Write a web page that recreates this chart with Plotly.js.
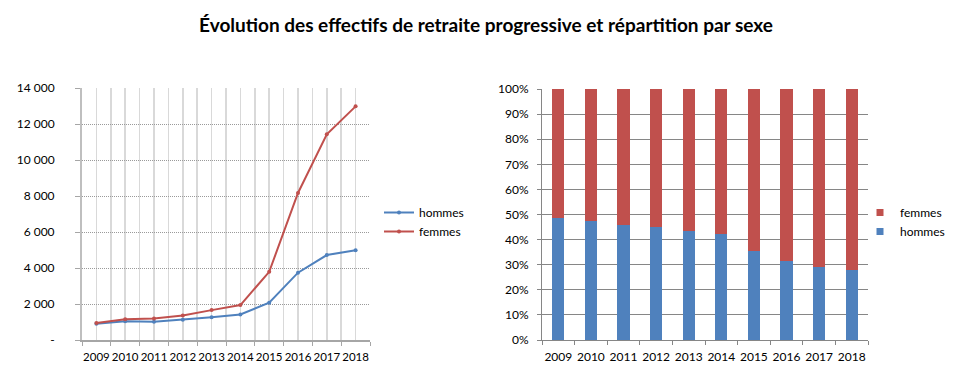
<!DOCTYPE html>
<html>
<head>
<meta charset="utf-8">
<script src="https://cdn.plot.ly/plotly-3.0.1.min.js"></script>
<style>html,body{margin:0;padding:0;background:#fff;}#chart{width:962px;height:373px;}</style>
</head>
<body>
<div id="chart"></div>
<script>
const years = [2009, 2010, 2011, 2012, 2013, 2014, 2015, 2016, 2017, 2018];
const hommes = [900, 1040, 1010, 1120, 1270, 1420, 2070, 3740, 4720, 4990];
const femmes = [950, 1150, 1190, 1360, 1660, 1940, 3790, 8170, 11430, 12980];
const yTickVals = [0, 2000, 4000, 6000, 8000, 10000, 12000, 14000];
const yTickText = ['-', '2 000', '4 000', '6 000', '8 000', '10 000', '12 000', '14 000'];
const titleText = 'Évolution des effectifs de retraite progressive et répartition par sexe';

const BLUE = '#4F81BD', RED = '#C0504D';
const W = 962, H = 373;
const px = v => v / W, py = v => 1 - v / H;
const FAM = 'Lato, "Open Sans", sans-serif';
const font = {family: FAM, size: 12, color: '#000'};
const fontSmall = {family: FAM, size: 11.5, color: '#000'};

const traces = [
  {x: years, y: hommes, name: 'hommes', type: 'scatter', mode: 'lines+markers',
   line: {color: BLUE, width: 2}, marker: {size: 4, color: BLUE}, xaxis: 'x', yaxis: 'y', legend: 'legend'},
  {x: years, y: femmes, name: 'femmes', type: 'scatter', mode: 'lines+markers',
   line: {color: RED, width: 2}, marker: {size: 4, color: RED}, xaxis: 'x', yaxis: 'y', legend: 'legend'},
  {x: years, y: hommes, name: 'hommes', type: 'bar', marker: {color: BLUE}, showlegend: false,
   xaxis: 'x2', yaxis: 'y2'},
  {x: years, y: femmes, name: 'femmes', type: 'bar', marker: {color: RED}, showlegend: false,
   xaxis: 'x2', yaxis: 'y2'},
  // legend-only entries with small square swatches, as in the reference
  {x: [null], y: [null], name: 'hommes', type: 'scatter', mode: 'markers',
   marker: {symbol: 'square', size: 7, color: BLUE}, xaxis: 'x2', yaxis: 'y2', legend: 'legend2'},
  {x: [null], y: [null], name: 'femmes', type: 'scatter', mode: 'markers',
   marker: {symbol: 'square', size: 7, color: RED}, xaxis: 'x2', yaxis: 'y2', legend: 'legend2'}
];

const layout = {
  width: W, height: H,
  margin: {l: 0, r: 0, t: 0, b: 0},
  paper_bgcolor: '#fff', plot_bgcolor: '#fff',
  font: font,
  showlegend: true,
  barmode: 'stack', barnorm: 'percent', bargap: 0.62,
  title: {text: '<b>' + titleText + '</b>', x: px(486), xanchor: 'center', xref: 'paper',
          y: py(25), yanchor: 'middle', yref: 'container',
          font: {family: FAM, size: 19, color: '#000'}},
  xaxis: {domain: [px(82), px(370)], anchor: 'y', type: 'linear', range: [2008.5, 2018.5],
          tickvals: years, ticktext: years.map(String), ticks: '', showgrid: true, tickangle: 0,
          gridcolor: '#d9d9d9', gridwidth: 1.5, ticklabelstandoff: 6,
          minor: {tick0: 2008.5, dtick: 1, showgrid: true, gridcolor: '#d9d9d9', gridwidth: 1.5,
                  ticks: 'outside', ticklen: 4, tickcolor: '#a6a6a6'},
          showline: true, linecolor: '#a6a6a6', linewidth: 1.5, zeroline: false,
          tickfont: fontSmall, automargin: false, fixedrange: true},
  yaxis: {domain: [py(340), py(88)], anchor: 'x', range: [0, 14000],
          tickvals: yTickVals, ticktext: yTickText, ticks: 'outside', ticklen: 5, tickcolor: '#a6a6a6',
          ticklabelstandoff: 18,
          showgrid: true, gridcolor: '#9a9a9a', griddash: '1px,1px', gridwidth: 1,
          showline: true, linecolor: '#bfbfbf', linewidth: 2, zeroline: false,
          tickfont: font, automargin: false, fixedrange: true},
  xaxis2: {domain: [px(542), px(868)], anchor: 'y2', type: 'linear', range: [2008.5, 2018.5],
           tickvals: years, ticktext: years.map(String), ticks: '', showgrid: false, ticklabelstandoff: 6,
           tickangle: 0,
           minor: {tick0: 2008.5, dtick: 1, showgrid: false, ticks: 'outside', ticklen: 4, tickcolor: '#868686'},
           showline: true, linecolor: '#868686', linewidth: 1, zeroline: false,
           tickfont: font, automargin: false, fixedrange: true},
  yaxis2: {domain: [py(340), py(89)], anchor: 'x2', range: [0, 100], dtick: 10, ticksuffix: '%',
           ticks: 'outside', ticklen: 4, tickcolor: '#868686', ticklabelstandoff: 6,
           showgrid: true, gridcolor: '#868686', gridwidth: 1,
           showline: true, linecolor: '#868686', linewidth: 1, zeroline: false,
           tickfont: font, automargin: false, fixedrange: true},
  legend: {x: px(379), y: py(198), xanchor: 'left', yanchor: 'top', font: font,
           bgcolor: 'rgba(0,0,0,0)', traceorder: 'normal', tracegroupgap: 0, itemwidth: 30},
  legend2: {x: px(860), y: py(198), xanchor: 'left', yanchor: 'top', font: font,
            bgcolor: 'rgba(0,0,0,0)', traceorder: 'reversed', itemwidth: 30}
};

Plotly.newPlot('chart', traces, layout, {displayModeBar: false, staticPlot: true});
</script>
</body>
</html>
